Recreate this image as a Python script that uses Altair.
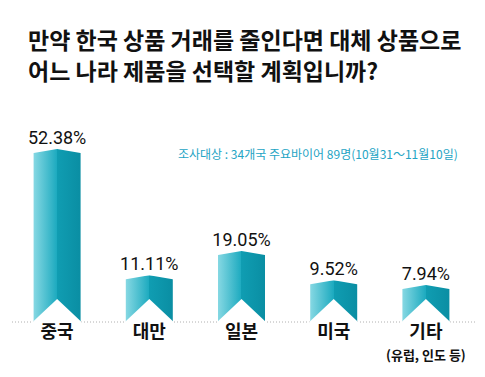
import altair as alt
import pandas as pd

cats = ["중국", "대만", "일본", "미국", "기타"]
vals = [52.38, 11.11, 19.05, 9.52, 7.94]
val_labels = ["52.38%", "11.11%", "19.05%", "9.52%", "7.94%"]
subs = ["", "", "", "", "(유럽, 인도 등)"]

title_lines = ["만약 한국 상품 거래를 줄인다면 대체 상품으로", "어느 나라 제품을 선택할 계획입니까?"]
note = "조사대상 : 34개국 주요바이어 89명(10월31～11월10일)"

df = pd.DataFrame({"cat": cats, "v": vals, "lab": val_labels, "sub": subs})

YMIN, YMAX = -4.15, 68.4
BW = 47
KR = "Noto Sans CJK KR"
NUM = "Roboto, sans-serif"

grad = alt.LinearGradient(
    gradient="linear", x1=0, x2=1, y1=0, y2=0,
    stops=[
        alt.GradientStop(offset=0.0, color="#86d8e3"),
        alt.GradientStop(offset=0.5, color="#1caabf"),
        alt.GradientStop(offset=0.5, color="#109db2"),
        alt.GradientStop(offset=1.0, color="#0a8ea3"),
    ],
)

x = alt.X("cat:N", sort=cats, axis=None,
          scale=alt.Scale(paddingInner=0, paddingOuter=0))
yscale = alt.Scale(domain=[YMIN, YMAX], nice=False, zero=False)
y = alt.Y("v:Q", scale=yscale, axis=None)

base = alt.Chart(df)

dots = base.mark_rule(color="#b0b0b0", strokeDash=[1, 2], strokeWidth=1).encode(
    x=alt.value(1), x2=alt.value(464), y=alt.value(222)
).transform_filter("datum.cat == '중국'")

bars = base.mark_bar(width=BW, color=grad).encode(
    x=x, y=y, y2=alt.datum(YMIN)
)

# white cut-outs above the chevron-shaped top
topcut = base.mark_point(
    shape="M-1.12,-0.06 L1.12,-0.06 L1.12,0.19 L0,0 L-1.12,0.19 Z",
    size=BW * BW, color="white", filled=True, strokeWidth=0, opacity=1
).encode(x=x, y=y)

# white notch at the bottom
notch = base.mark_point(
    shape="M-1.04,0.1 L-1.04,0 L0,-0.98 L1.04,0 L1.04,0.1 Z",
    size=BW * BW, color="white", filled=True, strokeWidth=0, opacity=1
).encode(x=x, y=alt.value(222))

vlab = base.mark_text(font=NUM, fontSize=18, baseline="alphabetic", dy=-5,
                      color="#111111").encode(x=x, y=y, text="lab:N")

clab = base.mark_text(font=KR, fontSize=18, fontWeight="bold", baseline="middle",
                      color="#111111").encode(
    x=x, y=alt.value(233), text="cat:N")

slab = base.mark_text(font=KR, fontSize=13, fontWeight="bold", baseline="middle",
                      color="#111111").encode(
    x=x, y=alt.value(256), text="sub:N")

notetxt = base.mark_text(font=KR, fontSize=12, align="left", baseline="middle",
                         color="#23a4c4").encode(
    x=alt.value(167), y=alt.value(55), text=alt.value(note)
).transform_filter("datum.cat == '중국'")

chart = alt.layer(dots, bars, topcut, notch, vlab, clab, slab, notetxt).properties(
    width=461, height=222,
    padding={"left": 3, "top": 92, "right": 5, "bottom": 47},
    autosize=alt.AutoSizeParams(type="none"),
    title=alt.TitleParams(
        text=title_lines, anchor="start", font=KR, fontSize=23, fontWeight="bold",
        lineHeight=31, dx=17, offset=15, color="#111111"
    ),
).configure_view(stroke=None)

chart.save("out.html", embed_options={"renderer": "svg", "actions": False})
